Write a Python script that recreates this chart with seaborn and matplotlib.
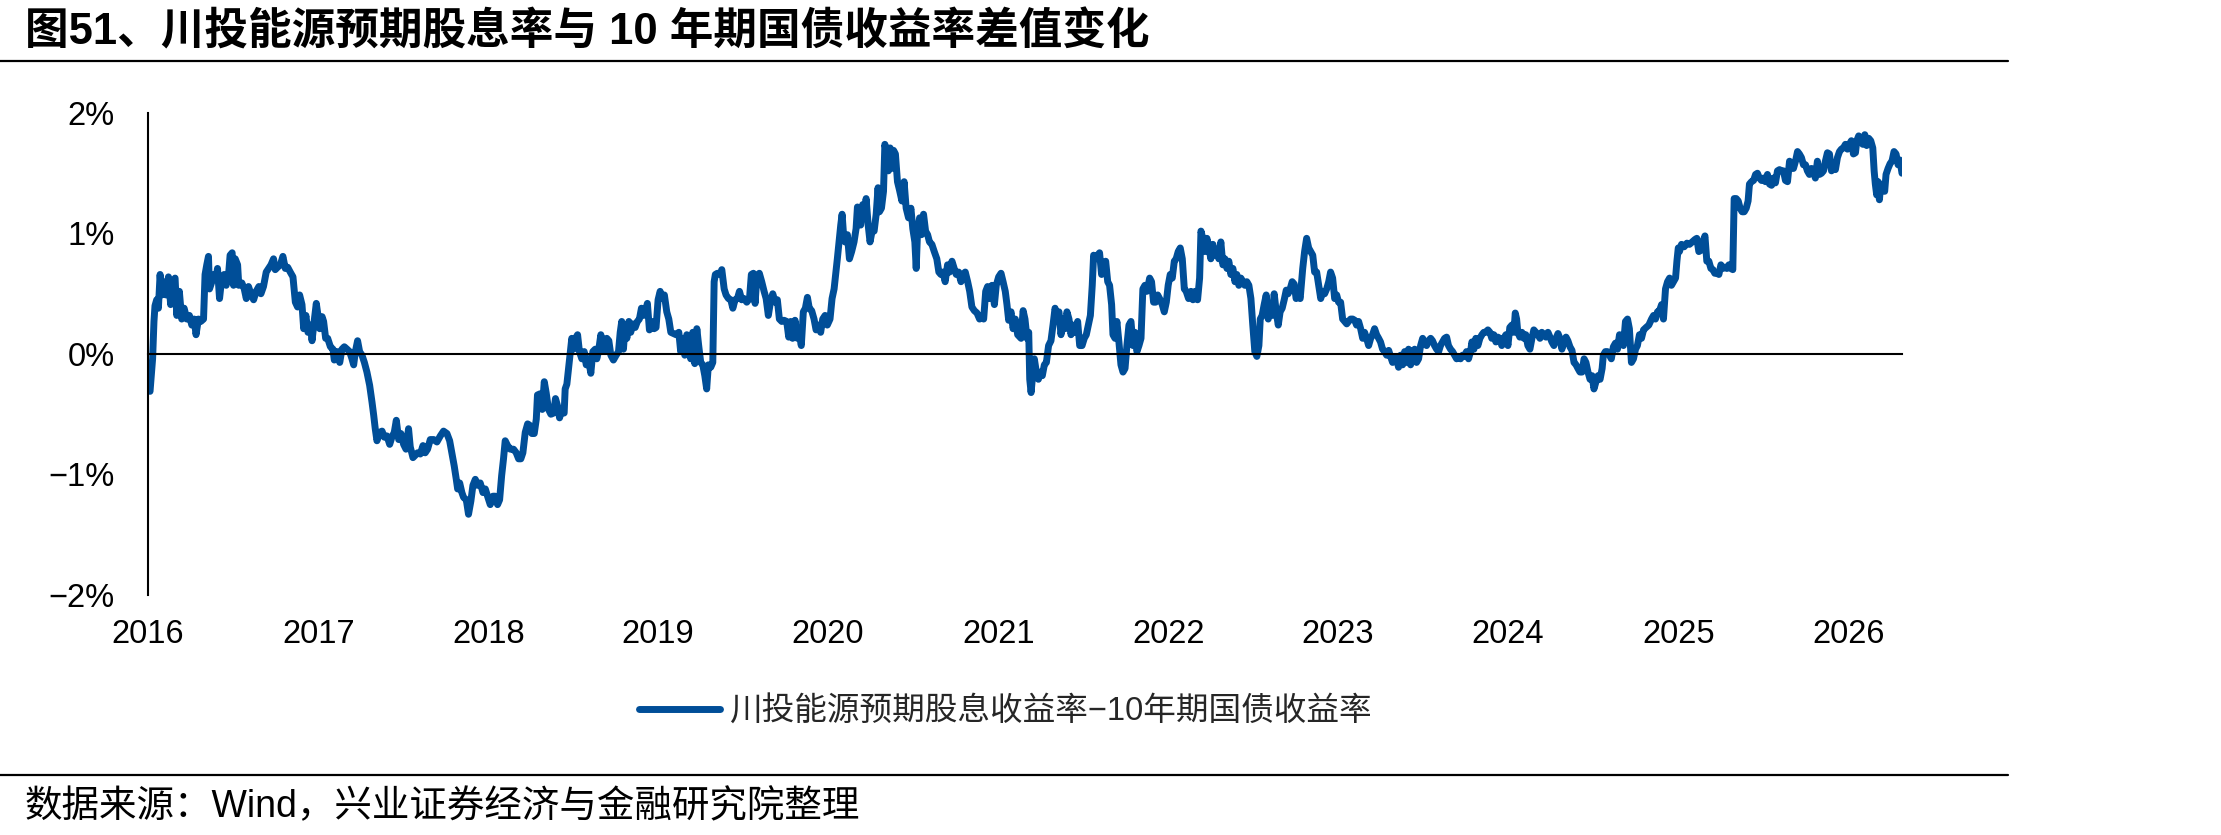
import matplotlib
matplotlib.use("Agg")
import matplotlib.pyplot as plt
import matplotlib.dates as mdates
from matplotlib.lines import Line2D
from matplotlib.ticker import FuncFormatter
import seaborn as sns
import pandas as pd

# ---------------- data (decimal year, spread in %) ----------------
title_text = "图51、川投能源预期股息率与 10 年期国债收益率差值变化"
source_text = "数据来源：Wind，兴业证券经济与金融研究院整理"
series_label = "川投能源预期股息收益率−10年期国债收益率"
year_labels = ["2016", "2017", "2018", "2019", "2020", "2021", "2022", "2023", "2024", "2025", "2026"]
y_ticks = [-2, -1, 0, 1, 2]

seg_2016 = [
    (2016.000, -0.28), (2016.012, -0.31), (2016.027, -0.04), (2016.035, 0.27), (2016.041, 0.40),
    (2016.051, 0.45), (2016.061, 0.38), (2016.071, 0.66), (2016.080, 0.49), (2016.090, 0.60),
    (2016.106, 0.49), (2016.120, 0.64), (2016.133, 0.41), (2016.145, 0.60), (2016.159, 0.63),
    (2016.169, 0.32), (2016.184, 0.52), (2016.198, 0.29), (2016.212, 0.38), (2016.228, 0.29),
    (2016.243, 0.32), (2016.257, 0.24), (2016.271, 0.29), (2016.282, 0.16), (2016.296, 0.29),
    (2016.310, 0.27), (2016.326, 0.29), (2016.335, 0.66), (2016.345, 0.74), (2016.355, 0.81),
    (2016.361, 0.54), (2016.375, 0.60), (2016.388, 0.66), (2016.400, 0.63), (2016.408, 0.71),
    (2016.420, 0.46), (2016.433, 0.63), (2016.447, 0.66), (2016.459, 0.57), (2016.473, 0.66),
    (2016.482, 0.82), (2016.494, 0.84), (2016.502, 0.57), (2016.512, 0.79), (2016.526, 0.74),
    (2016.533, 0.57), (2016.551, 0.59), (2016.565, 0.54), (2016.577, 0.46), (2016.590, 0.56),
    (2016.604, 0.50), (2016.620, 0.45), (2016.635, 0.52), (2016.651, 0.56), (2016.663, 0.50),
    (2016.678, 0.56), (2016.694, 0.68), (2016.708, 0.71), (2016.722, 0.74), (2016.737, 0.79),
    (2016.747, 0.70), (2016.761, 0.72), (2016.777, 0.74), (2016.792, 0.81), (2016.806, 0.71),
    (2016.820, 0.72), (2016.835, 0.68), (2016.851, 0.64), (2016.865, 0.43), (2016.878, 0.39),
    (2016.890, 0.49), (2016.904, 0.41), (2016.914, 0.21), (2016.927, 0.32), (2016.939, 0.18),
    (2016.953, 0.24), (2016.963, 0.11), (2016.977, 0.29), (2016.988, 0.42), (2016.998, 0.32),
]
seg_2017 = [
    (2017.008, 0.21), (2017.022, 0.31), (2017.031, 0.27), (2017.043, 0.13), (2017.055, 0.13),
    (2017.071, 0.06), (2017.086, 0.04), (2017.094, -0.05), (2017.110, 0.02), (2017.126, -0.07),
    (2017.139, 0.04), (2017.153, 0.06), (2017.169, 0.04), (2017.184, 0.02), (2017.198, -0.04),
    (2017.208, -0.09), (2017.218, 0.02), (2017.231, 0.11), (2017.243, 0.02), (2017.257, -0.01),
    (2017.271, -0.07), (2017.286, -0.15), (2017.302, -0.26), (2017.316, -0.40), (2017.326, -0.51),
    (2017.335, -0.62), (2017.345, -0.72), (2017.361, -0.65), (2017.375, -0.64), (2017.388, -0.69),
    (2017.404, -0.68), (2017.420, -0.75), (2017.433, -0.69), (2017.447, -0.65), (2017.459, -0.55),
    (2017.473, -0.71), (2017.486, -0.66), (2017.502, -0.75), (2017.516, -0.79), (2017.531, -0.62),
    (2017.541, -0.77), (2017.557, -0.86), (2017.571, -0.84), (2017.584, -0.82), (2017.600, -0.83),
    (2017.616, -0.76), (2017.629, -0.82), (2017.643, -0.79), (2017.659, -0.71), (2017.679, -0.71),
    (2017.698, -0.73), (2017.718, -0.68), (2017.737, -0.64), (2017.757, -0.66), (2017.773, -0.72),
    (2017.786, -0.82), (2017.800, -0.93), (2017.812, -1.04), (2017.820, -1.12), (2017.832, -1.07),
    (2017.845, -1.15), (2017.855, -1.19), (2017.871, -1.21), (2017.884, -1.33), (2017.898, -1.22),
    (2017.910, -1.09), (2017.924, -1.04), (2017.937, -1.09), (2017.953, -1.07), (2017.969, -1.15),
    (2017.983, -1.12), (2017.996, -1.18),
]
seg_2018 = [
    (2018.012, -1.25), (2018.028, -1.18), (2018.041, -1.18), (2018.055, -1.25), (2018.067, -1.21),
    (2018.079, -1.01), (2018.090, -0.87), (2018.100, -0.72), (2018.114, -0.76), (2018.130, -0.79),
    (2018.149, -0.79), (2018.165, -0.82), (2018.179, -0.87), (2018.192, -0.87), (2018.204, -0.82),
    (2018.218, -0.65), (2018.232, -0.58), (2018.243, -0.59), (2018.257, -0.66), (2018.271, -0.66),
    (2018.283, -0.54), (2018.290, -0.34), (2018.306, -0.33), (2018.318, -0.46), (2018.330, -0.23),
    (2018.341, -0.32), (2018.355, -0.46), (2018.369, -0.50), (2018.385, -0.49), (2018.396, -0.37),
    (2018.408, -0.43), (2018.420, -0.53), (2018.433, -0.46), (2018.447, -0.49), (2018.453, -0.29),
    (2018.463, -0.25), (2018.473, -0.12), (2018.482, -0.01), (2018.492, 0.13), (2018.502, 0.04),
    (2018.514, 0.13), (2018.526, 0.16), (2018.537, 0.02), (2018.551, -0.04), (2018.565, 0.02),
    (2018.577, -0.09), (2018.590, -0.04), (2018.604, -0.16), (2018.616, 0.02), (2018.630, 0.04),
    (2018.639, -0.04), (2018.649, 0.02), (2018.663, 0.16), (2018.675, 0.07), (2018.686, 0.02),
    (2018.698, 0.13), (2018.710, 0.11), (2018.722, -0.01), (2018.737, -0.05), (2018.753, -0.01),
    (2018.767, 0.02), (2018.777, 0.18), (2018.786, 0.27), (2018.796, 0.04), (2018.806, 0.24),
    (2018.816, 0.13), (2018.828, 0.27), (2018.839, 0.18), (2018.851, 0.25), (2018.865, 0.22),
    (2018.878, 0.27), (2018.890, 0.29), (2018.902, 0.38), (2018.914, 0.32), (2018.926, 0.36),
    (2018.937, 0.42), (2018.949, 0.20), (2018.963, 0.27), (2018.977, 0.21), (2018.988, 0.22),
]
seg_2019 = [
    (2019.000, 0.45), (2019.012, 0.52), (2019.026, 0.46), (2019.037, 0.49), (2019.051, 0.35),
    (2019.063, 0.29), (2019.075, 0.18), (2019.090, 0.17), (2019.106, 0.16), (2019.122, 0.18),
    (2019.133, 0.02), (2019.145, 0.13), (2019.157, -0.01), (2019.169, 0.16), (2019.180, 0.07),
    (2019.192, -0.04), (2019.204, 0.18), (2019.216, -0.08), (2019.228, 0.21), (2019.239, 0.07),
    (2019.251, -0.07), (2019.263, -0.09), (2019.275, -0.18), (2019.286, -0.29), (2019.296, -0.09),
    (2019.310, -0.11), (2019.322, -0.07), (2019.330, 0.60), (2019.337, 0.66), (2019.349, 0.67),
    (2019.365, 0.66), (2019.375, 0.70), (2019.389, 0.54), (2019.400, 0.49), (2019.414, 0.46),
    (2019.428, 0.45), (2019.440, 0.38), (2019.453, 0.45), (2019.467, 0.46), (2019.479, 0.52),
    (2019.492, 0.45), (2019.506, 0.46), (2019.522, 0.43), (2019.538, 0.46), (2019.549, 0.66),
    (2019.561, 0.67), (2019.571, 0.42), (2019.581, 0.63), (2019.596, 0.67), (2019.610, 0.60),
    (2019.624, 0.52), (2019.636, 0.46), (2019.649, 0.32), (2019.659, 0.41), (2019.675, 0.50),
    (2019.689, 0.43), (2019.702, 0.45), (2019.714, 0.29), (2019.728, 0.27), (2019.741, 0.28),
    (2019.757, 0.27), (2019.769, 0.14), (2019.781, 0.27), (2019.792, 0.13), (2019.806, 0.28),
    (2019.820, 0.13), (2019.832, 0.16), (2019.843, 0.07), (2019.855, 0.35), (2019.867, 0.38),
    (2019.879, 0.47), (2019.890, 0.38), (2019.904, 0.36), (2019.918, 0.29), (2019.930, 0.20),
    (2019.943, 0.24), (2019.957, 0.18), (2019.969, 0.29), (2019.983, 0.32), (2019.996, 0.24),
]
seg_2020 = [
    (2020.012, 0.29), (2020.024, 0.46), (2020.036, 0.54), (2020.047, 0.68), (2020.055, 0.79),
    (2020.067, 0.96), (2020.075, 1.07), (2020.083, 1.16), (2020.090, 1.02), (2020.100, 0.93),
    (2020.114, 0.99), (2020.126, 0.79), (2020.139, 0.85), (2020.153, 0.93), (2020.165, 1.04),
    (2020.173, 1.22), (2020.185, 1.10), (2020.192, 1.07), (2020.204, 1.24), (2020.212, 1.13),
    (2020.224, 1.29), (2020.236, 1.07), (2020.247, 0.93), (2020.259, 1.02), (2020.271, 1.02),
    (2020.283, 1.16), (2020.294, 1.38), (2020.302, 1.18), (2020.314, 1.21), (2020.326, 1.35),
    (2020.334, 1.74), (2020.345, 1.66), (2020.355, 1.52), (2020.365, 1.71), (2020.375, 1.54),
    (2020.385, 1.69), (2020.396, 1.66), (2020.408, 1.43), (2020.420, 1.36), (2020.434, 1.27),
    (2020.447, 1.43), (2020.459, 1.21), (2020.473, 1.13), (2020.487, 1.21), (2020.498, 1.04),
    (2020.510, 0.93), (2020.518, 0.71), (2020.526, 1.02), (2020.538, 1.13), (2020.549, 0.99),
    (2020.561, 1.16), (2020.573, 1.02), (2020.585, 0.99), (2020.596, 0.93), (2020.610, 0.91),
    (2020.624, 0.85), (2020.639, 0.79), (2020.651, 0.68), (2020.663, 0.66), (2020.675, 0.68),
    (2020.688, 0.60), (2020.702, 0.74), (2020.714, 0.68), (2020.728, 0.77), (2020.741, 0.71),
    (2020.753, 0.66), (2020.767, 0.68), (2020.781, 0.60), (2020.792, 0.66), (2020.806, 0.68),
    (2020.820, 0.60), (2020.832, 0.52), (2020.845, 0.39), (2020.859, 0.36), (2020.875, 0.34),
    (2020.890, 0.29), (2020.902, 0.32), (2020.914, 0.29), (2020.926, 0.52), (2020.937, 0.56),
    (2020.949, 0.46), (2020.963, 0.57), (2020.977, 0.41), (2020.988, 0.57),
]
seg_2021 = [
    (2021.002, 0.64), (2021.016, 0.67), (2021.028, 0.60), (2021.041, 0.52), (2021.051, 0.41),
    (2021.061, 0.28), (2021.075, 0.35), (2021.087, 0.21), (2021.100, 0.29), (2021.114, 0.16),
    (2021.134, 0.13), (2021.146, 0.36), (2021.157, 0.29), (2021.169, 0.13), (2021.179, 0.18),
    (2021.185, -0.21), (2021.193, -0.32), (2021.200, -0.21), (2021.212, -0.04), (2021.224, -0.15),
    (2021.236, -0.21), (2021.247, -0.15), (2021.259, -0.18), (2021.271, -0.09), (2021.283, -0.07),
    (2021.296, 0.07), (2021.310, 0.11), (2021.322, 0.24), (2021.334, 0.38), (2021.346, 0.32),
    (2021.357, 0.35), (2021.369, 0.16), (2021.381, 0.29), (2021.393, 0.21), (2021.404, 0.35),
    (2021.416, 0.29), (2021.428, 0.16), (2021.440, 0.24), (2021.453, 0.18), (2021.467, 0.27),
    (2021.479, 0.07), (2021.493, 0.07), (2021.506, 0.13), (2021.518, 0.16), (2021.530, 0.24),
    (2021.542, 0.32), (2021.553, 0.57), (2021.561, 0.82), (2021.573, 0.79), (2021.585, 0.82),
    (2021.596, 0.84), (2021.608, 0.66), (2021.620, 0.74), (2021.632, 0.77), (2021.644, 0.60),
    (2021.655, 0.57), (2021.667, 0.41), (2021.675, 0.16), (2021.687, 0.13), (2021.698, 0.27),
    (2021.710, 0.10), (2021.722, -0.09), (2021.734, -0.15), (2021.746, -0.12), (2021.757, 0.07),
    (2021.769, 0.24), (2021.781, 0.27), (2021.793, 0.07), (2021.804, 0.18), (2021.816, 0.02),
    (2021.828, 0.07), (2021.840, 0.13), (2021.851, 0.54), (2021.863, 0.57), (2021.875, 0.52),
    (2021.891, 0.63), (2021.902, 0.60), (2021.914, 0.43), (2021.926, 0.43), (2021.938, 0.49),
    (2021.953, 0.45), (2021.965, 0.41), (2021.977, 0.35), (2021.989, 0.43),
]
seg_2022 = [
    (2022.000, 0.57), (2022.012, 0.66), (2022.024, 0.63), (2022.036, 0.77), (2022.047, 0.79),
    (2022.059, 0.85), (2022.071, 0.88), (2022.083, 0.79), (2022.095, 0.54), (2022.106, 0.52),
    (2022.120, 0.46), (2022.134, 0.52), (2022.146, 0.45), (2022.159, 0.52), (2022.173, 0.45),
    (2022.185, 0.63), (2022.193, 1.02), (2022.204, 0.96), (2022.216, 0.85), (2022.228, 0.96),
    (2022.240, 0.88), (2022.251, 0.79), (2022.263, 0.91), (2022.275, 0.82), (2022.287, 0.85),
    (2022.298, 0.79), (2022.310, 0.93), (2022.322, 0.74), (2022.334, 0.79), (2022.346, 0.71),
    (2022.357, 0.77), (2022.369, 0.66), (2022.381, 0.71), (2022.393, 0.60), (2022.404, 0.66),
    (2022.416, 0.57), (2022.428, 0.63), (2022.440, 0.60), (2022.451, 0.57), (2022.463, 0.60),
    (2022.475, 0.57), (2022.487, 0.46), (2022.498, 0.24), (2022.510, 0.02), (2022.522, -0.02),
    (2022.534, 0.07), (2022.542, 0.29), (2022.553, 0.32), (2022.565, 0.41), (2022.577, 0.49),
    (2022.589, 0.29), (2022.600, 0.41), (2022.612, 0.32), (2022.624, 0.50), (2022.636, 0.35),
    (2022.648, 0.24), (2022.659, 0.35), (2022.671, 0.38), (2022.683, 0.45), (2022.695, 0.53),
    (2022.706, 0.50), (2022.718, 0.54), (2022.730, 0.60), (2022.742, 0.58), (2022.753, 0.46),
    (2022.765, 0.50), (2022.777, 0.46), (2022.792, 0.71), (2022.803, 0.85), (2022.815, 0.96),
    (2022.827, 0.88), (2022.839, 0.85), (2022.851, 0.82), (2022.862, 0.68), (2022.874, 0.68),
    (2022.886, 0.57), (2022.898, 0.46), (2022.909, 0.52), (2022.921, 0.50), (2022.933, 0.54),
    (2022.945, 0.60), (2022.956, 0.68), (2022.968, 0.63), (2022.980, 0.46), (2022.992, 0.49),
]
seg_2023 = [
    (2023.003, 0.43), (2023.015, 0.43), (2023.027, 0.29), (2023.039, 0.27), (2023.051, 0.25),
    (2023.062, 0.27), (2023.074, 0.29), (2023.086, 0.29), (2023.098, 0.28), (2023.109, 0.24),
    (2023.121, 0.27), (2023.133, 0.21), (2023.145, 0.13), (2023.156, 0.18), (2023.168, 0.13),
    (2023.180, 0.07), (2023.192, 0.13), (2023.203, 0.16), (2023.215, 0.21), (2023.227, 0.16),
    (2023.239, 0.13), (2023.250, 0.10), (2023.262, 0.04), (2023.274, 0.02), (2023.286, -0.01),
    (2023.298, 0.03), (2023.309, -0.02), (2023.321, -0.07), (2023.333, -0.02), (2023.345, -0.04),
    (2023.356, -0.11), (2023.368, -0.01), (2023.380, -0.09), (2023.392, 0.02), (2023.403, -0.07),
    (2023.415, 0.04), (2023.427, -0.09), (2023.439, 0.02), (2023.451, 0.04), (2023.462, -0.07),
    (2023.474, -0.04), (2023.486, 0.07), (2023.498, 0.13), (2023.509, 0.10), (2023.521, 0.07),
    (2023.533, 0.11), (2023.545, 0.13), (2023.556, 0.11), (2023.568, 0.07), (2023.580, 0.04),
    (2023.592, 0.02), (2023.603, 0.07), (2023.615, 0.10), (2023.627, 0.13), (2023.639, 0.14),
    (2023.650, 0.07), (2023.662, 0.04), (2023.674, 0.02), (2023.686, -0.01), (2023.698, -0.04),
    (2023.709, -0.02), (2023.721, -0.04), (2023.733, -0.01), (2023.745, -0.02), (2023.756, 0.02),
    (2023.768, -0.04), (2023.780, 0.02), (2023.788, 0.10), (2023.800, 0.04), (2023.811, 0.13),
    (2023.823, 0.07), (2023.835, 0.13), (2023.847, 0.16), (2023.858, 0.18), (2023.870, 0.18),
    (2023.882, 0.20), (2023.894, 0.18), (2023.905, 0.13), (2023.917, 0.16), (2023.929, 0.10),
    (2023.941, 0.14), (2023.952, 0.13), (2023.964, 0.07), (2023.976, 0.13), (2023.988, 0.16),
]
seg_2024 = [
    (2024.000, 0.07), (2024.011, 0.22), (2024.023, 0.24), (2024.035, 0.18), (2024.043, 0.34),
    (2024.051, 0.29), (2024.058, 0.18), (2024.070, 0.14), (2024.082, 0.18), (2024.094, 0.13),
    (2024.105, 0.16), (2024.117, 0.07), (2024.129, 0.04), (2024.141, 0.13), (2024.152, 0.20),
    (2024.164, 0.18), (2024.176, 0.16), (2024.188, 0.13), (2024.199, 0.18), (2024.211, 0.16),
    (2024.223, 0.14), (2024.235, 0.18), (2024.247, 0.14), (2024.258, 0.10), (2024.270, 0.07),
    (2024.282, 0.13), (2024.294, 0.17), (2024.305, 0.13), (2024.317, 0.04), (2024.329, 0.11),
    (2024.341, 0.14), (2024.352, 0.11), (2024.364, 0.06), (2024.376, 0.03), (2024.388, -0.07),
    (2024.400, -0.09), (2024.411, -0.12), (2024.423, -0.15), (2024.435, -0.15), (2024.447, -0.04),
    (2024.458, -0.07), (2024.470, -0.15), (2024.482, -0.21), (2024.494, -0.18), (2024.505, -0.29),
    (2024.517, -0.23), (2024.529, -0.18), (2024.541, -0.21), (2024.553, -0.12), (2024.560, -0.01),
    (2024.572, 0.02), (2024.584, 0.02), (2024.596, -0.01), (2024.607, -0.04), (2024.619, 0.06),
    (2024.631, 0.09), (2024.643, 0.04), (2024.655, 0.16), (2024.666, 0.10), (2024.678, 0.07),
    (2024.690, 0.27), (2024.702, 0.29), (2024.713, 0.21), (2024.725, -0.07), (2024.737, -0.04),
    (2024.749, 0.04), (2024.760, 0.07), (2024.772, 0.16), (2024.784, 0.13), (2024.796, 0.20),
    (2024.811, 0.22), (2024.827, 0.24), (2024.843, 0.29), (2024.855, 0.32), (2024.866, 0.29),
    (2024.878, 0.35), (2024.890, 0.36), (2024.902, 0.41), (2024.913, 0.29), (2024.925, 0.54),
    (2024.937, 0.60), (2024.949, 0.63), (2024.960, 0.57), (2024.972, 0.60), (2024.984, 0.63),
    (2024.992, 0.77),
]
seg_2025 = [
    (2025.000, 0.88), (2025.007, 0.85), (2025.019, 0.91), (2025.035, 0.89), (2025.051, 0.92),
    (2025.066, 0.91), (2025.082, 0.93), (2025.098, 0.95), (2025.109, 0.96), (2025.121, 0.85),
    (2025.133, 0.86), (2025.145, 0.93), (2025.157, 0.98), (2025.168, 0.77), (2025.180, 0.77),
    (2025.192, 0.71), (2025.204, 0.70), (2025.215, 0.67), (2025.227, 0.67), (2025.239, 0.66),
    (2025.251, 0.74), (2025.262, 0.71), (2025.274, 0.72), (2025.286, 0.71), (2025.298, 0.74),
    (2025.309, 0.71), (2025.321, 0.70), (2025.329, 1.29), (2025.341, 1.29), (2025.353, 1.27),
    (2025.364, 1.21), (2025.376, 1.18), (2025.388, 1.18), (2025.400, 1.21), (2025.411, 1.27),
    (2025.419, 1.41), (2025.431, 1.43), (2025.443, 1.44), (2025.455, 1.49), (2025.466, 1.50),
    (2025.478, 1.46), (2025.490, 1.44), (2025.502, 1.46), (2025.513, 1.43), (2025.525, 1.49),
    (2025.537, 1.41), (2025.549, 1.40), (2025.560, 1.46), (2025.572, 1.42), (2025.584, 1.52),
    (2025.596, 1.53), (2025.607, 1.52), (2025.619, 1.52), (2025.631, 1.44), (2025.643, 1.43),
    (2025.655, 1.60), (2025.666, 1.54), (2025.678, 1.54), (2025.690, 1.60), (2025.702, 1.68),
    (2025.713, 1.66), (2025.725, 1.63), (2025.737, 1.57), (2025.749, 1.57), (2025.760, 1.52),
    (2025.772, 1.49), (2025.784, 1.54), (2025.796, 1.52), (2025.807, 1.46), (2025.819, 1.60),
    (2025.831, 1.49), (2025.843, 1.50), (2025.855, 1.52), (2025.866, 1.60), (2025.878, 1.67),
    (2025.890, 1.66), (2025.902, 1.52), (2025.913, 1.57), (2025.925, 1.53), (2025.937, 1.63),
    (2025.949, 1.68), (2025.960, 1.70), (2025.972, 1.71), (2025.984, 1.74), (2025.996, 1.70),
]
seg_2026 = [
    (2026.007, 1.74), (2026.019, 1.77), (2026.031, 1.66), (2026.043, 1.67), (2026.051, 1.77),
    (2026.062, 1.81), (2026.074, 1.78), (2026.086, 1.74), (2026.098, 1.82), (2026.109, 1.73),
    (2026.121, 1.79), (2026.133, 1.77), (2026.145, 1.71), (2026.153, 1.52), (2026.160, 1.41),
    (2026.168, 1.32), (2026.176, 1.43), (2026.184, 1.28), (2026.192, 1.41), (2026.203, 1.38),
    (2026.215, 1.35), (2026.223, 1.49), (2026.235, 1.54), (2026.247, 1.58), (2026.258, 1.60),
    (2026.270, 1.68), (2026.282, 1.66), (2026.294, 1.57), (2026.305, 1.61), (2026.317, 1.50),
]

# ---------------- build table ----------------
def to_date(t):
    y = int(t)
    start = pd.Timestamp(y, 1, 1)
    end = pd.Timestamp(y + 1, 1, 1)
    return start + (end - start) * (t - y)

pairs = seg_2016 + seg_2017 + seg_2018 + seg_2019 + seg_2020 + seg_2021 + seg_2022 + seg_2023 + seg_2024 + seg_2025 + seg_2026
df = pd.DataFrame({
    "date": [to_date(t) for t, _ in pairs],
    "spread": [v for _, v in pairs],
})

# ---------------- style ----------------
sns.set_style("white")
plt.rcParams["font.family"] = ["Liberation Sans", "Noto Sans CJK SC", "DejaVu Sans"]
plt.rcParams["axes.unicode_minus"] = True

W, H = 2221, 835
fig = plt.figure(figsize=(W / 100, H / 100), dpi=100)
ax = fig.add_axes([148 / W, 1 - 595 / H, (1902 - 148) / W, 482 / H])

line_color = "#004E98"
lw = 5.0
sns.lineplot(data=df, x="date", y="spread", ax=ax, color=line_color,
             linewidth=lw, label=series_label, legend=False)

ax.set_xlabel("")
ax.set_ylabel("")
ax.set_ylim(-2, 2)
ax.set_yticks(y_ticks)
ax.yaxis.set_major_formatter(FuncFormatter(lambda v, p: f"{v:.0f}%".replace("-", "\u2212")))

tick_dates = [pd.Timestamp(int(y), 1, 1) for y in year_labels]
ax.set_xlim(tick_dates[0], df["date"].iloc[-1])
ax.set_xticks(tick_dates)

for s in ["top", "right"]:
    ax.spines[s].set_visible(False)
ax.spines["left"].set_linewidth(1.5)
ax.spines["left"].set_color("black")
ax.spines["bottom"].set_position(("data", 0))
ax.spines["bottom"].set_linewidth(1.5)
ax.spines["bottom"].set_color("black")

ax.tick_params(axis="y", direction="out", length=6.2, width=1.4, color="black",
               labelsize=23.5, pad=18, labelcolor="black")
ax.tick_params(axis="x", direction="out", length=7, width=1.4, color="black",
               labelbottom=False)

# year labels along the bottom of the plot area
sec = ax.secondary_xaxis(0)
sec.set_xticks(mdates.date2num(tick_dates))
sec.set_xticklabels(year_labels)
sec.spines["bottom"].set_visible(False)
sec.tick_params(axis="x", length=0, pad=17, labelsize=23.5, labelcolor="black")

# legend
handles = [Line2D([0], [0], color=line_color, linewidth=lw, solid_capstyle="round")]
fig.legend(handles, [series_label], loc="center", bbox_to_anchor=(1005 / W, 1 - 712 / H),
           frameon=False, fontsize=23.5, handlelength=2.5, handletextpad=0.25)

# title, rules and source
fig.text(25 / W, 1 - 32 / H, title_text, fontsize=31.4, fontweight="bold",
         ha="left", va="center", color="black")
fig.add_artist(Line2D([0, 2008 / W], [1 - 61 / H, 1 - 61 / H], color="black", linewidth=1.6))
fig.add_artist(Line2D([0, 2008 / W], [1 - 775 / H, 1 - 775 / H], color="black", linewidth=1.6))
fig.text(25 / W, 1 - 807 / H, source_text, fontsize=27, ha="left", va="center", color="black")

fig.savefig("out.png", dpi=100, facecolor="white")
